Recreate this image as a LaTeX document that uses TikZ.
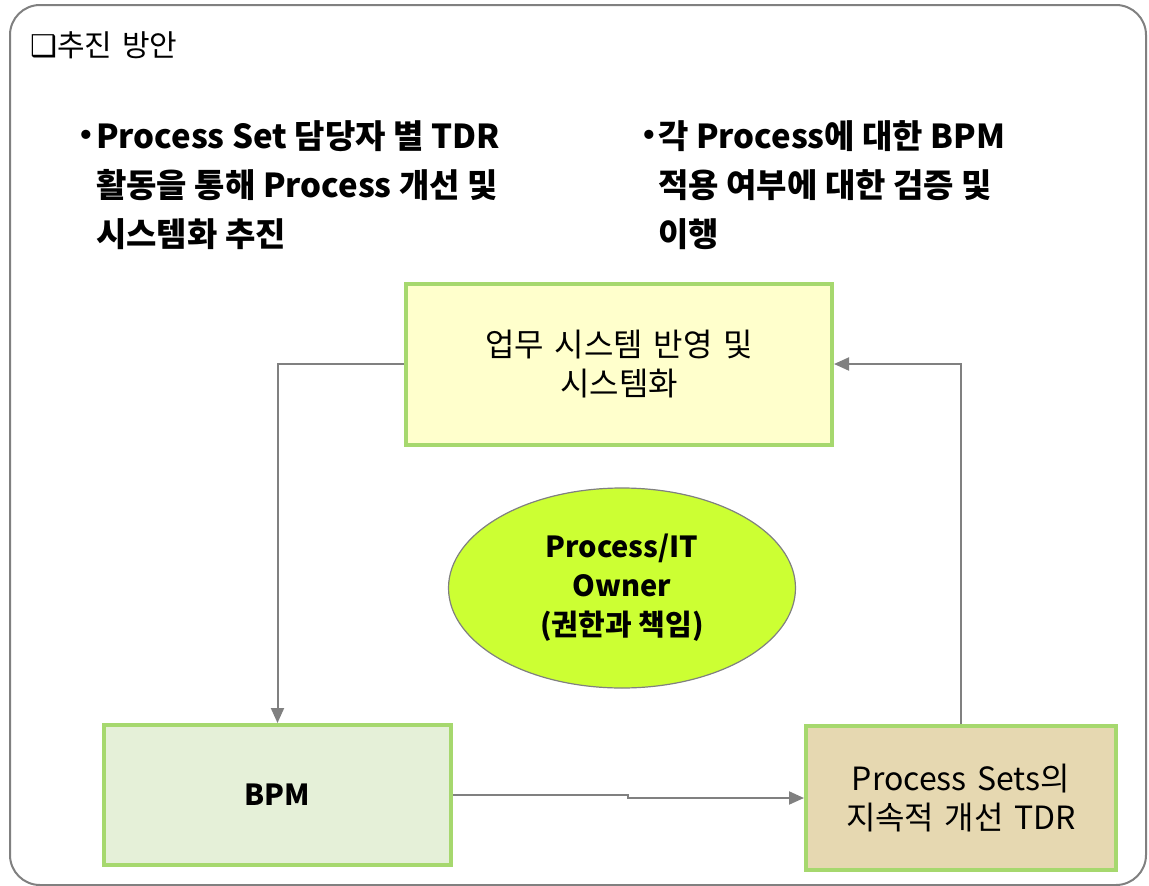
\documentclass[tikz,border=0pt]{standalone}
\usepackage{fontspec}
\setmainfont{Noto Sans CJK KR}
\newfontfamily\symfont{DejaVu Sans}
\usetikzlibrary{arrows.meta,shapes.geometric}

\definecolor{boxline}{HTML}{A6D86E}
\definecolor{linegray}{HTML}{808080}
\definecolor{sysfill}{HTML}{FFFFCC}
\definecolor{bpmfill}{HTML}{E5F0D8}
\definecolor{tdrfill}{HTML}{E6D8B1}
\definecolor{ownfill}{HTML}{CCFF33}
\newcommand\widerspace{\spaceskip 0.33em\relax}

\begin{document}
\begin{tikzpicture}[x=1pt,y=-1pt,>={Triangle[length=15pt,width=13pt]}]
            \tikzstyle{stepbox} = [rectangle,draw=boxline,line width=4pt,align=center,
                font=\fontsize{32}{39}\selectfont\widerspace];
            \tikzstyle{link} = [->,draw=linegray,line width=2pt];
            \tikzstyle{bullettext} = [anchor=north west,align=left,inner sep=0pt,
                font=\fontsize{33}{49}\selectfont\bfseries];
            \tikzstyle{bulletdot} = [anchor=center,inner sep=0pt,font=\symfont\fontsize{26}{30}\selectfont\bfseries];
            \useasboundingbox (0,0) rectangle (1149,886);
            % frame and heading
            \draw[linegray,line width=2pt,rounded corners=30pt] (10,5) rectangle (1146,885);
            \node[anchor=west,inner sep=0pt,font=\fontsize{30}{32}\selectfont\widerspace] (title) at (30,45)
                {{\symfont\fontsize{30}{32}\selectfont ❑}추진 방안};
            % two bullet items
            \node[bulletdot] (dot1) at (86,137) {•};
            \node[bullettext] (item1) at (96,120)
                {Process Set 담당자 별 TDR\\활동을 통해 Process 개선 및\\시스템화 추진};
            \node[bulletdot] (dot2) at (649,137) {•};
            \node[bullettext] (item2) at (658,120)
                {각 Process에 대한 BPM\\적용 여부에 대한 검증 및\\이행};
            % boxes
            \node[stepbox,fill=sysfill,minimum width=426pt,minimum height=161pt] (sys) at (619,364)
                {업무 시스템 반영 및\\시스템화};
            \node[stepbox,fill=bpmfill,minimum width=347pt,minimum height=140pt,font=\fontsize{29}{39}\selectfont\bfseries] (bpm) at (277.5,795)
                {BPM};
            \node[stepbox,fill=tdrfill,minimum width=310pt,minimum height=144pt] (tdr) at (961,798)
                {Process Sets의\\지속적 개선 TDR};
            \node[ellipse,draw=linegray,line width=1.2pt,fill=ownfill,minimum width=347pt,minimum height=200pt,
                align=center,font=\fontsize{29}{39}\selectfont\bfseries] (owner) at (622,588)
                {Process/IT\\Owner\\(권한과 책임)};
            % connectors
            \coordinate (jog) at (628,0);
            \draw[link] (sys.west) -| (bpm.north);
            \draw[link] (bpm.east) -- (bpm.east -| jog) |- (tdr.west);
            \draw[link] (tdr.north) |- (sys.east);
        \end{tikzpicture}
\end{document}
